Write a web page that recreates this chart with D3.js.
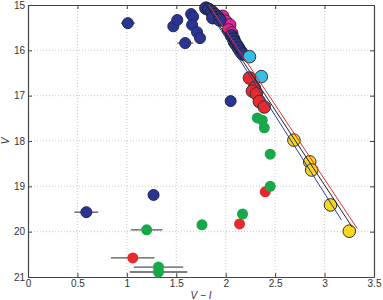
<!DOCTYPE html>
<html><head><meta charset="utf-8">
<script src="https://cdn.jsdelivr.net/npm/d3@7"></script>
<style>body{margin:0;background:#fff}svg{display:block}text{font-family:"Liberation Sans",Arial,sans-serif}</style>
</head><body><svg id="c" width="383" height="300"></svg>
<script>
const xTicks=[0,0.5,1,1.5,2,2.5,3,3.5];
const yTicks=[15,16,17,18,19,20,21];
const xTickLabels=["0","0.5","1","1.5","2","2.5","3","3.5"];
const yTickLabels=["15","16","17","18","19","20","21"];
// [V-I, V, xerr]
const navy=[[1.01,15.40,0.07],[1.47,15.47,0.03],[1.51,15.33,0.03],[1.65,15.20,0],[1.67,15.26,0],[1.66,15.44,0],[1.71,15.60,0],[1.74,15.73,0],[1.59,15.84,0.08],[2.05,17.12,0],[1.27,19.19,0.05],[0.59,19.57,0.12]];
const navyRing=[[1.80,15.07,0],[1.83,15.10,0],[1.86,15.15,0],[1.89,15.21,0],[1.92,15.27,0],[1.87,15.28,0],[1.94,15.33,0],[2.06,15.68,0],[2.08,15.75,0],[2.09,15.82,0],[2.11,15.88,0],[2.13,15.95,0],[2.15,16.02,0],[2.17,16.08,0]];
const magenta=[[1.97,15.25,0],[2.00,15.36,0],[2.04,15.44,0],[2.03,15.55,0],[2.06,15.62,0]];
const cyan=[[2.24,16.14,0],[2.36,16.58,0]];
const redRing=[[2.24,16.61,0],[2.29,16.83,0],[2.27,16.90,0],[2.31,16.96,0],[2.34,17.13,0],[2.39,17.25,0]];
const red=[[2.40,19.12,0.03],[2.14,19.83,0.05],[1.06,20.58,0.22]];
const green=[[2.32,17.49,0],[2.37,17.54,0],[2.39,17.71,0],[2.45,18.29,0],[2.45,19.00,0],[2.17,19.61,0],[1.76,19.85,0.04],[1.20,19.96,0.16],[1.32,20.78,0.25],[1.32,20.89,0.29]];
const yellow=[[2.69,17.98,0],[2.85,18.46,0],[2.87,18.64,0],[3.06,19.41,0],[3.25,19.99,0]];
// fit lines [x0,V0,x1,V1]
const lineBlue=[1.79,15.0,3.17,19.74];
const lineBlack=[1.80,15.0,3.28,19.90];
const lineRed=[1.83,15.0,3.33,19.93];

const svg=d3.select("#c");
const L=28,R=374,T=5,B=277;
const x=d3.scaleLinear().domain([0,3.5]).range([L,R]);
const y=d3.scaleLinear().domain([15,21]).range([T,B]);
const g=svg.append("g");
g.selectAll(".gx").data(xTicks.slice(1,-1)).join("line").attr("x1",d=>x(d)).attr("x2",d=>x(d)).attr("y1",T).attr("y2",B).attr("stroke","#bbb").attr("stroke-width",0.8).attr("stroke-dasharray","1,2");
g.selectAll(".gy").data(yTicks.slice(1,-1)).join("line").attr("y1",d=>y(d)).attr("y2",d=>y(d)).attr("x1",L).attr("x2",R).attr("stroke","#bbb").attr("stroke-width",0.8).attr("stroke-dasharray","1,2");

const ax=svg.append("g").attr("transform",`translate(0,${B})`).call(d3.axisBottom(x).tickValues(xTicks).tickFormat((d,i)=>xTickLabels[i]).tickSizeInner(-4).tickSizeOuter(0).tickPadding(3));
const ay=svg.append("g").attr("transform",`translate(${L},0)`).call(d3.axisLeft(y).tickValues(yTicks).tickFormat((d,i)=>yTickLabels[i]).tickSizeInner(-4).tickSizeOuter(0).tickPadding(3));
const axT=svg.append("g").attr("transform",`translate(0,${T})`).call(d3.axisTop(x).tickValues(xTicks).tickFormat("").tickSizeInner(-4).tickSizeOuter(0));
const ayR=svg.append("g").attr("transform",`translate(${R},0)`).call(d3.axisRight(y).tickValues(yTicks).tickFormat("").tickSizeInner(-4).tickSizeOuter(0));
[ax,ay,axT,ayR].forEach(a=>{a.selectAll("path").attr("stroke","#444").attr("stroke-width",1.2);a.selectAll("line").attr("stroke","#444");a.selectAll("text").attr("fill","#333").style("font-size","10px");});

svg.append("text").attr("x",(L+R)/2).attr("y",299).attr("text-anchor","middle").style("font-size","10px").style("font-style","italic").attr("fill","#333").text("V − I");
svg.append("text").attr("transform","translate(9,141) rotate(-90)").attr("text-anchor","middle").style("font-size","10px").style("font-style","italic").attr("fill","#333").text("V");

const pts=svg.append("g");
function draw(data,fill,stroke,r){
  const gg=pts.append("g");
  gg.selectAll("line").data(data.filter(d=>d[2]>0)).join("line")
    .attr("x1",d=>x(d[0]-d[2])).attr("x2",d=>x(d[0]+d[2])).attr("y1",d=>y(d[1])).attr("y2",d=>y(d[1]))
    .attr("stroke","#555").attr("stroke-width",1.3);
  gg.selectAll("circle").data(data).join("circle").attr("cx",d=>x(d[0])).attr("cy",d=>y(d[1])).attr("r",r)
    .attr("fill",fill).attr("stroke",stroke).attr("stroke-width",stroke==="none"?0:1);
}
draw(navy,"#2b3590","#1e2566",5.5);
draw(magenta,"#e2239c","#333",6.3);
draw(navyRing,"#2b3590","#222",6.3);
draw(cyan,"#36bde8","#333",6.3);
draw(redRing,"#e62a2e","#333",6.3);
draw(red,"#e62a2e","none",5.5);
draw(green,"#18a84a","none",5.5);
draw(yellow,"#f7d61e","#333",6.3);

const lines=svg.append("g");
[[lineBlue,"#2b3aa0"],[lineBlack,"#222"],[lineRed,"#e03030"]].forEach(([l,c])=>{
  lines.append("line").attr("x1",x(l[0])).attr("y1",y(l[1])).attr("x2",x(l[2])).attr("y2",y(l[3])).attr("stroke",c).attr("stroke-width",1);
});
</script></body></html>
